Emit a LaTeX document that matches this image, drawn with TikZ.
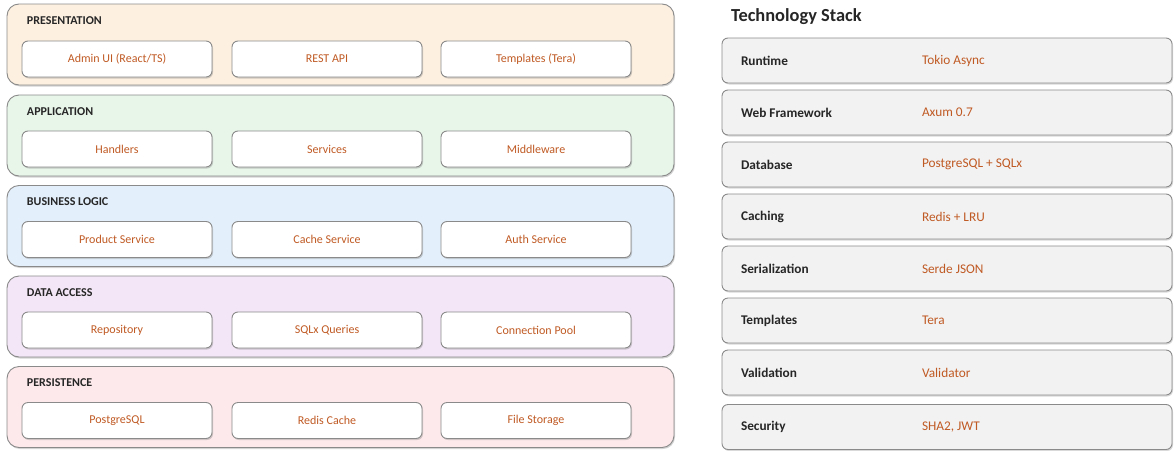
\documentclass[tikz,border=0pt]{standalone}
\usepackage{fontspec}
\setmainfont{Carlito}
\usetikzlibrary{positioning,shadows}
\definecolor{presfill}{HTML}{FDF0E0}
\definecolor{appfill}{HTML}{E8F5E9}
\definecolor{bizfill}{HTML}{E3EFFB}
\definecolor{datafill}{HTML}{F3E6F6}
\definecolor{persfill}{HTML}{FDE9EB}
\definecolor{rowfill}{HTML}{F2F2F2}
\definecolor{edgegray}{HTML}{8A8A8A}
\definecolor{valtext}{HTML}{C05A24}
\definecolor{keytext}{HTML}{262626}
\begin{document}
\begin{tikzpicture}[x=1pt,y=-1pt,inner sep=0pt,outer sep=0pt,
layerbox/.style={draw=edgegray,rounded corners=12pt,minimum width=667pt,minimum height=81pt,line width=0.9pt,
  drop shadow={shadow xshift=1pt,shadow yshift=-1.5pt,opacity=0.35}},
compbox/.style={draw=edgegray,fill=white,rounded corners=6pt,minimum width=190pt,minimum height=36pt,line width=0.9pt,
  text=valtext,font=\fontsize{12}{14}\selectfont,drop shadow={shadow xshift=1pt,shadow yshift=-1.5pt,opacity=0.35}},
layertitle/.style={anchor=west,text=keytext,font=\bfseries\fontsize{12}{14}\selectfont},
stackrow/.style={draw=edgegray,fill=rowfill,rounded corners=6pt,minimum width=450pt,minimum height=45pt,line width=0.9pt,
  drop shadow={shadow xshift=1pt,shadow yshift=-1.5pt,opacity=0.3}},
stackkey/.style={anchor=west,text=keytext,font=\bfseries\fontsize{13.3}{16}\selectfont},
stackval/.style={anchor=west,text=valtext,font=\fontsize{13.3}{16}\selectfont}]

\useasboundingbox (0,0) rectangle (1174,450);

\node[layerbox,fill=presfill] (pres) at (340.5,44.5) {};
\node[layerbox,fill=appfill] (app) at (340.5,135.5) {};
\node[layerbox,fill=bizfill] (biz) at (340.5,226) {};
\node[layerbox,fill=datafill] (data) at (340.5,316.5) {};
\node[layerbox,fill=persfill] (pers) at (340.5,407) {};

\node[layertitle] (prestitle) at (27,21) {PRESENTATION};
\node[layertitle] (apptitle) at (27,112) {APPLICATION};
\node[layertitle] (biztitle) at (27,202) {BUSINESS LOGIC};
\node[layertitle] (datatitle) at (27,293) {DATA ACCESS};
\node[layertitle] (perstitle) at (27,383) {PERSISTENCE};

\node[compbox] (admin) at (117,59) {Admin UI (React/TS)};
\node[compbox] (rest) at (327,59) {REST API};
\node[compbox] (tmpl) at (536,59) {Templates (Tera)};
\node[compbox] (handlers) at (117,149) {Handlers};
\node[compbox] (services) at (327,149) {Services};
\node[compbox] (middleware) at (536,149) {Middleware};
\node[compbox] (product) at (117,239.5) {Product Service};
\node[compbox] (cachesvc) at (327,239.5) {Cache Service};
\node[compbox] (auth) at (536,239.5) {Auth Service};
\node[compbox] (repo) at (117,330) {Repository};
\node[compbox] (queries) at (327,330) {SQLx Queries};
\node[compbox] (pool) at (536,330) {Connection Pool};
\node[compbox] (postgres) at (117,420.5) {PostgreSQL};
\node[compbox] (redis) at (327,420.5) {Redis Cache};
\node[compbox] (files) at (536,420.5) {File Storage};

\node[anchor=west,text=keytext,font=\bfseries\fontsize{18.4}{22}\selectfont] (stacktitle) at (731,17) {Technology Stack};

\node[stackrow] (runtime) at (947,60.5) {};
\node[stackrow] (web) at (947,112.5) {};
\node[stackrow] (db) at (947,164.5) {};
\node[stackrow] (caching) at (947,216.5) {};
\node[stackrow] (serial) at (947,268.5) {};
\node[stackrow] (templates) at (947,320.5) {};
\node[stackrow] (valid) at (947,372.5) {};
\node[stackrow] (security) at (947,427) {};

\node[stackkey,right=19pt of runtime.west] (runtimekey) {Runtime};
\node[stackval,right=200pt of runtime.west] (runtimeval) {Tokio Async};
\node[stackkey,right=19pt of web.west] (webkey) {Web Framework};
\node[stackval,right=200pt of web.west] (webval) {Axum 0.7};
\node[stackkey,right=19pt of db.west] (dbkey) {Database};
\node[stackval,right=200pt of db.west] (dbval) {PostgreSQL + SQLx};
\node[stackkey,right=19pt of caching.west] (cachingkey) {Caching};
\node[stackval,right=200pt of caching.west] (cachingval) {Redis + LRU};
\node[stackkey,right=19pt of serial.west] (serialkey) {Serialization};
\node[stackval,right=200pt of serial.west] (serialval) {Serde JSON};
\node[stackkey,right=19pt of templates.west] (templateskey) {Templates};
\node[stackval,right=200pt of templates.west] (templatesval) {Tera};
\node[stackkey,right=19pt of valid.west] (validkey) {Validation};
\node[stackval,right=200pt of valid.west] (validval) {Validator};
\node[stackkey,right=19pt of security.west] (securitykey) {Security};
\node[stackval,right=200pt of security.west] (securityval) {SHA2, JWT};
\end{tikzpicture}
\end{document}
